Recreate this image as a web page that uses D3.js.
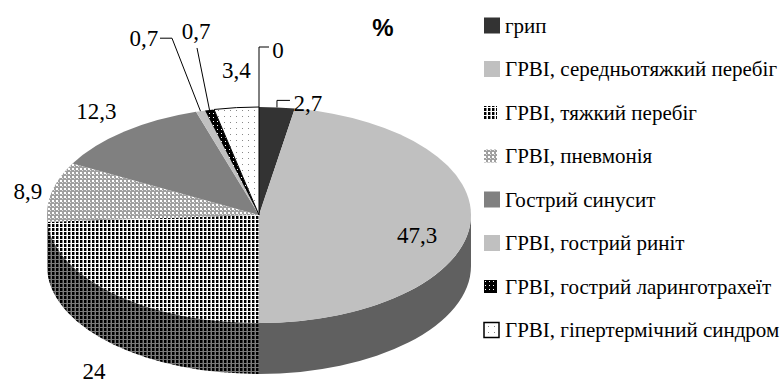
<!DOCTYPE html>
<html>
<head>
<meta charset="utf-8">
<script src="https://cdn.jsdelivr.net/npm/d3@7"></script>
<style>
  html, body { margin: 0; padding: 0; background: #fff; }
  svg { display: block; }
</style>
</head>
<body>
<svg id="chart" width="781" height="385"></svg>
<script>
// ---- data ----
const categories = [
  "грип",
  "ГРВІ, середньотяжкий перебіг",
  "ГРВІ, тяжкий перебіг",
  "ГРВІ, пневмонія",
  "Гострий синусит",
  "ГРВІ, гострий риніт",
  "ГРВІ, гострий ларинготрахеїт",
  "ГРВІ, гіпертермічний синдром",
  ""
];
const values = [2.7, 47.3, 24, 8.9, 12.3, 0.7, 0.7, 3.4, 0];
const valueLabels = ["2,7", "47,3", "24", "8,9", "12,3", "0,7", "0,7", "3,4", "0"];
const chartTitle = "%";

// ---- styles ----
const SERIF = '"Liberation Serif"';
const SANS = '"Liberation Sans"';
const topFills  = ["#333333", "#c0c0c0", "url(#pHeavy)", "url(#pPneu)", "#808080", "#c0c0c0", "url(#pLaryn)", "url(#pHyper)", "none"];
const sideFills = ["#1a1a1a", "#606060", "url(#pHeavySide)", "url(#pPneuSide)", "#404040", "#606060", "url(#pLarynSide)", "url(#pHyperSide)", "none"];
const outlines  = [null, null, null, null, null, null, null, "#000", null];
const markerSize = [16, 16, 13, 13, 16, 16, 13, 15, 0];

// ---- layout ----
const cx = 259, cy = 215, rx = 212, ry = 108, depth = 51;
// label centre offsets from the rim point at each slice's mid angle
const labelOffsets = [[31, -4], [-53, 11], [-20, 78], [-24, 0], [-28, -20], [-56.5, -73], [-13.5, -78], [0, -37], [19, -57]];
// leader line bends, relative to the rim point
const leaders = {0: [[0, -7], [13, -7]], 5: [[-28.5, -73], [-40.5, -73]], 6: [[-12.5, -62]], 8: [[0, -60], [10, -60]]};

const svg = d3.select("#chart");
const defs = svg.append("defs");

function pattern(id, size, bg, cells) {
  const p = defs.append("pattern").attr("id", id).attr("patternUnits", "userSpaceOnUse")
    .attr("width", size).attr("height", size);
  p.append("rect").attr("width", size).attr("height", size).attr("fill", bg);
  cells.forEach(([x, y, w, h, c]) => p.append("rect").attr("x", x).attr("y", y).attr("width", w).attr("height", h).attr("fill", c));
}
pattern("pHeavy", 4, "#ffffff", [[0, 0, 2, 3, "#000"], [2, 0, 1, 3, "#8c8c8c"]]);
pattern("pHeavySide", 4, "#7a7a7a", [[0, 0, 2, 3, "#000"], [2, 0, 1, 3, "#3a3a3a"]]);
pattern("pPneu", 4, "#a0a0a0", [[0, 0, 2, 2, "#ffffff"], [2, 2, 1, 1, "#e0e0e0"]]);
pattern("pPneuSide", 4, "#5a5a5a", [[0, 0, 2, 2, "#a8a8a8"]]);
pattern("pLaryn", 4, "#000000", [[1, 1, 1, 1, "#ffffff"]]);
pattern("pLarynSide", 4, "#000000", [[1, 1, 1, 1, "#888"]]);
pattern("pHyper", 6, "#ffffff", [[2, 2, 1, 1, "#888"]]);
pattern("pHyperSide", 6, "#888888", [[2, 2, 1, 1, "#444"]]);

// elliptical projection of an angle (clockwise from 12 o'clock)
const px = a => cx + rx * Math.sin(a);
const py = a => cy - ry * Math.cos(a);

const pie = d3.pie().sort(null).value(d => d).startAngle(0).endAngle(2 * Math.PI);
const arcs = pie(values).map((d, i) => ({...d, i}));

function topPath(a0, a1) {
  const large = (a1 - a0) > Math.PI ? 1 : 0;
  return `M${cx},${cy}L${px(a0)},${py(a0)}A${rx},${ry} 0 ${large} 1 ${px(a1)},${py(a1)}Z`;
}
function sidePath(a0, a1) {
  const large = (a1 - a0) > Math.PI ? 1 : 0;
  return `M${px(a0)},${py(a0)}A${rx},${ry} 0 ${large} 1 ${px(a1)},${py(a1)}` +
         `L${px(a1)},${py(a1) + depth}A${rx},${ry} 0 ${large} 0 ${px(a0)},${py(a0) + depth}Z`;
}

// front side walls (visible between 3 and 9 o'clock)
const sides = svg.append("g");
arcs.forEach(d => {
  const s0 = Math.max(d.startAngle, Math.PI / 2), s1 = Math.min(d.endAngle, 3 * Math.PI / 2);
  if (s1 - s0 <= 1e-6) return;
  sides.append("path").attr("d", sidePath(s0, s1)).attr("fill", sideFills[d.i])
    .attr("stroke", outlines[d.i] || "none").attr("stroke-width", 1);
});

// top faces
const tops = svg.append("g");
arcs.forEach(d => {
  if (d.endAngle - d.startAngle <= 1e-9) return;
  tops.append("path").attr("d", topPath(d.startAngle, d.endAngle)).attr("fill", topFills[d.i])
    .attr("stroke", outlines[d.i] || "none").attr("stroke-width", 1);
});

// leader lines and value labels
const labels = svg.append("g");
arcs.forEach(d => {
  const m = (d.startAngle + d.endAngle) / 2;
  const rimX = px(m), rimY = py(m);
  if (leaders[d.i]) {
    const pts = [[rimX, rimY]].concat(leaders[d.i].map(([dx, dy]) => [rimX + dx, rimY + dy]));
    svg.append("path").attr("d", d3.line()(pts)).attr("fill", "none").attr("stroke", "#000").attr("stroke-width", 1);
  }
  const [dx, dy] = labelOffsets[d.i];
  labels.append("text").attr("x", rimX + dx).attr("y", rimY + dy)
    .attr("text-anchor", "middle").attr("dominant-baseline", "central").attr("fill", "#000")
    .style("font-family", SERIF).style("font-size", "23px")
    .text(valueLabels[d.i]);
});

// title
svg.append("text").attr("x", 383).attr("y", 27)
  .attr("text-anchor", "middle").attr("dominant-baseline", "central")
  .style("font-family", SANS).style("font-weight", "bold").style("font-size", "24px")
  .text(chartTitle);

// legend
const legendItems = categories.map((c, i) => ({c, i})).filter(d => d.c !== "");
const rowY = d3.scalePoint().domain(legendItems.map(d => d.i)).range([25.5, 330]);
const legend = svg.append("g");
legendItems.forEach(d => {
  const y = rowY(d.i), s = markerSize[d.i];
  legend.append("rect").attr("x", 484).attr("y", y - s / 2).attr("width", s).attr("height", s)
    .attr("fill", topFills[d.i]).attr("stroke", outlines[d.i] || "none").attr("stroke-width", 1.5);
  legend.append("text").attr("x", 505).attr("y", y).attr("dominant-baseline", "central").attr("fill", "#000")
    .style("font-family", SERIF).style("font-size", "21px")
    .text(d.c);
});
</script>
</body>
</html>
